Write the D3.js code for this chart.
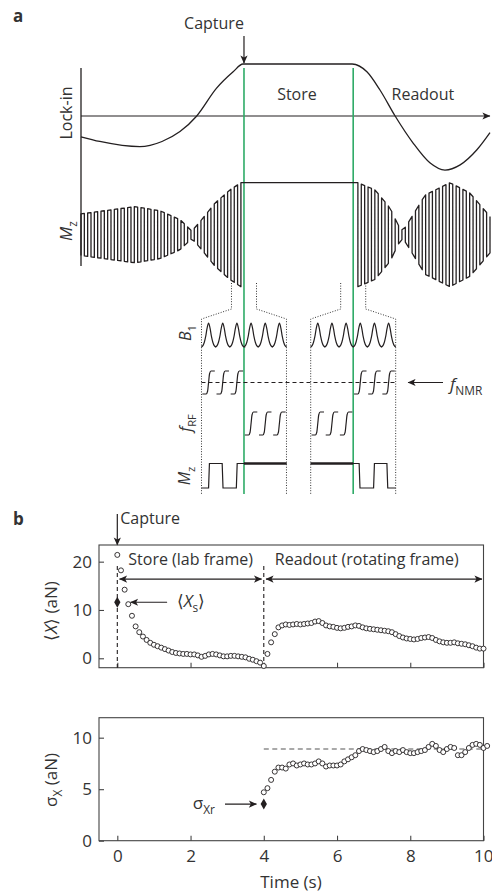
<!DOCTYPE html>
<html>
<head>
<meta charset="utf-8">
<script src="https://cdn.jsdelivr.net/npm/d3@7"></script>
<style>
  body { margin: 0; background: #fff; }
  svg text { font-family: "Open Sans", sans-serif; fill: #333; }
</style>
</head>
<body>
<svg id="fig" width="492" height="892"></svg>
<script>
// ---------- panel a : schematic (time in arbitrary units 0..100) ----------
const lockT = [0, 4.6, 14.4, 19.8, 24.2, 28.3, 33.1, 37.2, 39.6, 66.3, 69.9, 73.1, 76.8, 81.2, 85.3, 89.0, 92.7, 96.8, 100];
const lockV = [-0.40, -0.49, -0.59, -0.49, -0.30, 0, 0.53, 0.85, 1, 1, 0.85, 0.5, 0, -0.52, -0.9, -1.04, -0.94, -0.65, -0.32];

// Mz envelope before capture and after release
const mzLeftT = [0, 13.2, 19.3, 24.2, 27.1, 29.1, 32.8, 36.4, 39.1];
const mzLeftA = [0.40, 0.54, 0.46, 0.29, 0.07, 0.25, 0.61, 0.86, 1.0];
const mzRightT = [67.7, 71.9, 75.6, 77.5, 78.7, 80.4, 84.1, 90.2, 95.1, 100];
const mzRightA = [1.0, 0.86, 0.51, 0.19, 0.07, 0.28, 0.76, 1.0, 0.8, 0.35];

const captureT = 39.85, releaseT = 66.55;
const storeLabelT = 52.8, readoutLabelT = 83.6;

// inset: one B1 pulse shape, frequency sweep shape, pulse slots
const b1Pulse = [0, 0.06, 0.2, 0.45, 0.8, 1, 0.8, 0.45, 0.2, 0.06, 0];
const sweepShape = [[0.06, 0], [0.33, 0], [0.43, 0.12], [0.5, 0.5], [0.57, 0.88], [0.67, 1], [0.94, 1]];
const leftUpperSweeps = [0, 1, 2], leftLowerSweeps = [3, 4, 5];
const rightLowerSweeps = [0, 1, 2], rightUpperSweeps = [3, 4, 5];
const mzInsetLeft = [[0, -1], [0.5, -1], [0.56, 1], [1.46, 1], [1.52, -1], [2.46, -1], [2.52, 1], [6, 1]];
const mzInsetRight = [[0, 1], [3.42, 1], [3.48, -1], [4.44, -1], [4.5, 1], [5.38, 1], [5.44, -1], [6, -1]];

// ---------- panel b : data ----------
const dt = 0.1;
const storeMean = [21.4, 18.2, 14.2, 11.2, 8.8, 6.6, 5.4, 4.5, 3.8, 3.2, 2.8, 2.5, 2.2, 1.9, 1.6, 1.3, 1.1, 1.0, 0.9, 0.9,
  0.8, 0.8, 0.6, 0.3, 0.5, 0.8, 0.9, 0.8, 0.6, 0.4, 0.4, 0.5, 0.5, 0.4, 0.3, 0.2, -0.1, -0.3, -0.6, -0.9, -1.6];
const readoutMean = [0.9, 3.3, 5.0, 6.4, 6.8, 7.0, 6.9, 7.0, 7.1, 7.0, 7.1, 7.2, 7.3, 7.6, 7.7, 7.3, 6.8, 6.6, 6.5, 6.3,
  6.2, 6.3, 6.5, 6.6, 6.8, 6.7, 6.4, 6.2, 6.1, 6.0, 5.9, 5.8, 5.7, 5.6, 5.4, 5.0, 4.6, 4.3, 4.1, 4.0,
  3.9, 4.0, 4.2, 4.3, 4.4, 4.2, 3.8, 3.5, 3.3, 3.2, 3.2, 3.3, 3.1, 3.0, 2.9, 2.7, 2.5, 2.2, 2.0, 2.0];
const readoutSigma = [4.7, 5.1, 5.9, 6.7, 7.1, 7.1, 7.0, 7.4, 7.5, 7.3, 7.4, 7.5, 7.4, 7.4, 7.5, 7.7, 7.5, 7.2, 7.3, 7.3,
  7.3, 7.4, 7.7, 7.9, 8.1, 8.3, 8.7, 8.9, 8.8, 8.7, 8.6, 8.7, 8.9, 9.1, 8.7, 8.5, 8.7, 8.6, 8.8, 8.6,
  8.5, 8.5, 8.6, 8.7, 8.8, 9.1, 9.4, 9.2, 8.8, 8.6, 8.9, 9.1, 9.0, 8.3, 8.3, 8.6, 9.0, 9.3, 9.4, 9.3, 9.0, 9.2];
const storeStart = 0, readoutStart = 4.1, sigmaStart = 4.0;
const meanStoreDiamond = [0, 11.6];
const sigmaDiamond = [4, 3.56];
const sigmaLevel = 8.9;
const xTicks = [0, 2, 4, 6, 8, 10];
const meanTicks = [0, 10, 20];
const sigmaTicks = [0, 5, 10];

const ink = "#231f20";
const green = "#2eab67";
const svg = d3.select("#fig");

const defs = svg.append("defs");
defs.append("marker").attr("id", "ah")
  .attr("viewBox", "0 0 10 10").attr("refX", 9.5).attr("refY", 5)
  .attr("markerWidth", 9).attr("markerHeight", 8).attr("markerUnits", "userSpaceOnUse")
  .attr("orient", "auto-start-reverse")
  .append("path").attr("d", "M0,0.5 L10,5 L0,9.5 L2.5,5 Z").attr("fill", ink);

function label(x, y, size, anchor, parts, opts = {}) {
  const t = svg.append("text").attr("x", x).attr("y", y)
    .attr("font-size", size).attr("text-anchor", anchor);
  if (opts.rotate) t.attr("transform", `rotate(-90,${x},${y})`);
  if (opts.bold) t.attr("font-weight", "bold");
  let shift = 0;
  parts.forEach(p => {
    const s = t.append("tspan").text(p.t);
    if (p.i) s.attr("font-style", "italic");
    const want = p.sub ? size * 0.3 : 0;
    if (want !== shift) { s.attr("dy", want - shift); shift = want; }
    if (p.sub) s.attr("font-size", size * 0.7);
  });
  return t;
}

// ---------------- panel a ----------------
const ax = d3.scaleLinear([0, 100], [81, 490]);
const lockY = d3.scaleLinear([-1, 1], [168, 64]);
const mzY = d3.scaleLinear([-1, 1], [286.7, 182.7]);

label(13, 22, 17, "start", [{ t: "a" }], { bold: true });
label(ax(captureT) - 30, 29, 16, "middle", [{ t: "Capture" }]);
svg.append("line").attr("x1", ax(captureT)).attr("x2", ax(captureT))
  .attr("y1", 36).attr("y2", 63).attr("stroke", ink).attr("stroke-width", 1.2)
  .attr("marker-end", "url(#ah)");
label(ax(storeLabelT), 100, 16, "middle", [{ t: "Store" }]);
label(ax(readoutLabelT), 100, 16, "middle", [{ t: "Readout" }]);
label(72, 113, 16, "middle", [{ t: "Lock-in" }], { rotate: true });
label(72, 231, 17, "middle", [{ t: "M", i: true }, { t: "z", sub: true }], { rotate: true });

// axes of lock-in / Mz
svg.append("line").attr("x1", ax(0)).attr("x2", ax(0)).attr("y1", 68).attr("y2", 266)
  .attr("stroke", ink).attr("stroke-width", 1.3);
svg.append("line").attr("x1", ax(0)).attr("x2", ax(100)).attr("y1", lockY(0)).attr("y2", lockY(0))
  .attr("stroke", ink).attr("stroke-width", 1.2).attr("marker-end", "url(#ah)");

// green capture / release lines
[captureT, releaseT].forEach(t => {
  svg.append("line").attr("x1", ax(t)).attr("x2", ax(t)).attr("y1", 68).attr("y2", 494)
    .attr("stroke", green).attr("stroke-width", 1.6);
});

// lock-in trace
svg.append("path")
  .attr("d", d3.line().x(d => ax(d[0])).y(d => lockY(d[1])).curve(d3.curveMonotoneX)(d3.zip(lockT, lockV)))
  .attr("fill", "none").attr("stroke", ink).attr("stroke-width", 1.3);

// Mz trace: carrier drawn under the envelopes
function carrier(ts, as, startUp) {
  const env = d3.scaleLinear(ts, as);
  const t0 = ts[0], t1 = ts[ts.length - 1];
  let n = Math.round((t1 - t0) / 0.83);
  if (startUp && n % 2) n += 1;
  const h = (t1 - t0) / n, pts = [];
  for (let i = 0; i <= n; i++) {
    const x = t0 + i * h, a = env(x);
    const up = startUp ? i % 2 === 0 : i % 2 === 1;
    if (up) pts.push([x, -a], [x, a]); else pts.push([x, a], [x, -a]);
  }
  return pts;
}
const mzPts = carrier(mzLeftT, mzLeftA, true).concat(carrier(mzRightT, mzRightA, false));
svg.append("path")
  .attr("d", d3.line().x(d => ax(d[0])).y(d => mzY(d[1]))(mzPts))
  .attr("fill", "none").attr("stroke", ink).attr("stroke-width", 1.3).attr("stroke-linejoin", "round");

// zoom windows and inset boxes
const boxHalf = 10.39, winHalf = 3.06;
const dotted = { stroke: "#333", "stroke-width": 1, "stroke-dasharray": "1,1.6", fill: "none" };
function applyAttrs(sel, o) { Object.entries(o).forEach(([k, v]) => sel.attr(k, v)); return sel; }
[captureT, releaseT].forEach(c => {
  [-1, 1].forEach(s => {
    const pts = [[ax(c + s * winHalf), 283], [ax(c + s * winHalf), 309], [ax(c + s * boxHalf), 319], [ax(c + s * boxHalf), 494]];
    applyAttrs(svg.append("path").attr("d", d3.line()(pts)), dotted);
  });
});
const insL = d3.scaleLinear([0, 6], [ax(captureT - boxHalf), ax(captureT + boxHalf)]);
const insR = d3.scaleLinear([0, 6], [ax(releaseT - boxHalf), ax(releaseT + boxHalf)]);
const b1Y = d3.scaleLinear([0, 1], [347, 323]);
const upperY = d3.scaleLinear([0, 1], [394, 371]);
const lowerY = d3.scaleLinear([0, 1], [435, 412]);
const mzInY = d3.scaleLinear([-1, 1], [488, 463.5]);

label(191, 333, 16, "middle", [{ t: "B", i: true }, { t: "1", sub: true }], { rotate: true });
label(191, 423, 16, "middle", [{ t: "f", i: true }, { t: "RF", sub: true }], { rotate: true });
label(190, 476, 16, "middle", [{ t: "M", i: true }, { t: "z", sub: true }], { rotate: true });

[insL, insR].forEach(sc => {
  const pts = [];
  for (let k = 0; k < 6; k++) b1Pulse.forEach((v, j) => pts.push([k + j / (b1Pulse.length - 1), v]));
  svg.append("path")
    .attr("d", d3.line().x(d => sc(d[0])).y(d => b1Y(d[1])).curve(d3.curveCatmullRom)(pts))
    .attr("fill", "none").attr("stroke", ink).attr("stroke-width", 1.2);
});

// f_NMR level
svg.append("line").attr("x1", insL(0)).attr("x2", insR(6)).attr("y1", upperY(0.5)).attr("y2", upperY(0.5))
  .attr("stroke", ink).attr("stroke-width", 1.1).attr("stroke-dasharray", "4,3");
svg.append("line").attr("x1", 443).attr("x2", 408).attr("y1", upperY(0.5)).attr("y2", upperY(0.5))
  .attr("stroke", ink).attr("stroke-width", 1.2).attr("marker-end", "url(#ah)");
label(450, upperY(0.5) + 7, 17, "start", [{ t: "f", i: true }, { t: "NMR", sub: true }]);

function sweeps(sc, slots, yS) {
  slots.forEach(k => {
    svg.append("path")
      .attr("d", d3.line().x(d => sc(k + d[0])).y(d => yS(d[1])).curve(d3.curveMonotoneX)(sweepShape))
      .attr("fill", "none").attr("stroke", ink).attr("stroke-width", 1.2);
  });
}
sweeps(insL, leftUpperSweeps, upperY);
sweeps(insL, leftLowerSweeps, lowerY);
sweeps(insR, rightLowerSweeps, lowerY);
sweeps(insR, rightUpperSweeps, upperY);

const mzLine = sc => d3.line().x(d => sc(d[0])).y(d => mzInY(d[1]));
svg.append("path").attr("d", mzLine(insL)(mzInsetLeft)).attr("fill", "none").attr("stroke", ink).attr("stroke-width", 1.2);
svg.append("path").attr("d", mzLine(insR)(mzInsetRight)).attr("fill", "none").attr("stroke", ink).attr("stroke-width", 1.2);
svg.append("path").attr("d", mzLine(insL)([[3, 1], [6, 1]])).attr("stroke", ink).attr("stroke-width", 2.4);
svg.append("path").attr("d", mzLine(insR)([[0, 1], [3, 1]])).attr("stroke", ink).attr("stroke-width", 2.4);

// ---------------- panel b ----------------
const xb = d3.scaleLinear([-0.5, 10], [99, 483.5]);
const y1 = d3.scaleLinear([-1.95, 23.45], [667.7, 545]);
const y2 = d3.scaleLinear([0, 11.94], [840.7, 717.7]);

label(13, 525, 17, "start", [{ t: "b" }], { bold: true });
label(xb(0.08), 524, 16, "start", [{ t: "Capture" }]);
svg.append("line").attr("x1", xb(0)).attr("x2", xb(0)).attr("y1", 514).attr("y2", 545)
  .attr("stroke", ink).attr("stroke-width", 1.2).attr("marker-end", "url(#ah)");

function frame(yS) {
  svg.append("rect").attr("x", xb(-0.5)).attr("y", yS.range()[1])
    .attr("width", xb(10) - xb(-0.5)).attr("height", yS.range()[0] - yS.range()[1])
    .attr("fill", "none").attr("stroke", "#444").attr("stroke-width", 1.1);
}
function styleAxis(g) {
  g.select(".domain").remove();
  g.selectAll("line").attr("stroke", "#444").attr("stroke-width", 1.1);
  g.selectAll("text").attr("font-size", 17).attr("fill", "#333").attr("font-family", "Open Sans, sans-serif");
}
frame(y1); frame(y2);
svg.append("g").attr("transform", `translate(${xb(-0.5)},0)`)
  .call(d3.axisLeft(y1).tickValues(meanTicks).tickSize(-5).tickPadding(7)).call(styleAxis);
svg.append("g").attr("transform", `translate(0,${y1.range()[0]})`)
  .call(d3.axisBottom(xb).tickValues(xTicks).tickSize(-5).tickFormat("")).call(styleAxis);
svg.append("g").attr("transform", `translate(${xb(-0.5)},0)`)
  .call(d3.axisLeft(y2).tickValues(sigmaTicks).tickSize(-5).tickPadding(7)).call(styleAxis);
svg.append("g").attr("transform", `translate(0,${y2.range()[0]})`)
  .call(d3.axisBottom(xb).tickValues(xTicks).tickSize(-5).tickPadding(9)).call(styleAxis)
  .call(g => g.selectAll(".tick text").filter(d => d === 10).attr("text-anchor", "end").attr("dx", "9.5"));

label(291, 888, 17, "middle", [{ t: "Time (s)" }]);
label(57, 611, 17, "middle", [{ t: "⟨" }, { t: "X", i: true }, { t: "⟩ (aN)" }], { rotate: true });
label(57, 780, 17, "middle", [{ t: "σ" }, { t: "X", sub: true }, { t: " (aN)" }], { rotate: true });

// dashed markers
[0, 4].forEach(t => {
  svg.append("line").attr("x1", xb(t)).attr("x2", xb(t)).attr("y1", 566).attr("y2", y1(-1.95))
    .attr("stroke", ink).attr("stroke-width", 1.1).attr("stroke-dasharray", "4,3");
});
svg.append("line").attr("x1", xb(4)).attr("x2", xb(10)).attr("y1", y2(sigmaLevel)).attr("y2", y2(sigmaLevel))
  .attr("stroke", "#555").attr("stroke-width", 1.1).attr("stroke-dasharray", "5,3.5");

// annotations
label(xb(0.3), y1(19.3), 16, "start", [{ t: "Store (lab frame)" }]);
label(xb(4.3), y1(19.3), 16, "start", [{ t: "Readout (rotating frame)" }]);
[[0.06, 3.94], [4.06, 9.96]].forEach(([a, b]) => {
  svg.append("line").attr("x1", xb(a)).attr("x2", xb(b)).attr("y1", y1(16.4)).attr("y2", y1(16.4))
    .attr("stroke", ink).attr("stroke-width", 1.2)
    .attr("marker-start", "url(#ah)").attr("marker-end", "url(#ah)");
});
svg.append("line").attr("x1", xb(1.36)).attr("x2", xb(0.36)).attr("y1", y1(11.6)).attr("y2", y1(11.6))
  .attr("stroke", ink).attr("stroke-width", 1.2).attr("marker-end", "url(#ah)");
label(xb(1.62), y1(11.6) + 5, 17, "start", [{ t: "⟨" }, { t: "X", i: true }, { t: "s", sub: true }, { t: "⟩" }]);

svg.append("line").attr("x1", xb(2.94)).attr("x2", xb(3.8)).attr("y1", y2(3.56)).attr("y2", y2(3.56))
  .attr("stroke", ink).attr("stroke-width", 1.2).attr("marker-end", "url(#ah)");
label(xb(2.06), y2(3.56) + 5, 17, "start", [{ t: "σ" }, { t: "Xr", sub: true }]);

// diamonds
const dia = d3.symbol(d3.symbolDiamond, 34);
svg.append("path").attr("d", dia()).attr("fill", ink)
  .attr("transform", `translate(${xb(meanStoreDiamond[0])},${y1(meanStoreDiamond[1])})`);
svg.append("path").attr("d", dia()).attr("fill", ink)
  .attr("transform", `translate(${xb(sigmaDiamond[0])},${y2(sigmaDiamond[1])})`);

// data points
function circles(vals, start, yS) {
  svg.append("g").selectAll("circle").data(vals).join("circle")
    .attr("cx", (d, i) => xb(start + i * dt)).attr("cy", d => yS(d))
    .attr("r", 2.5).attr("fill", "#fff").attr("stroke", ink).attr("stroke-width", 0.9);
}
circles(storeMean, storeStart, y1);
circles(readoutMean, readoutStart, y1);
circles(readoutSigma, sigmaStart, y2);
</script>
</body>
</html>
